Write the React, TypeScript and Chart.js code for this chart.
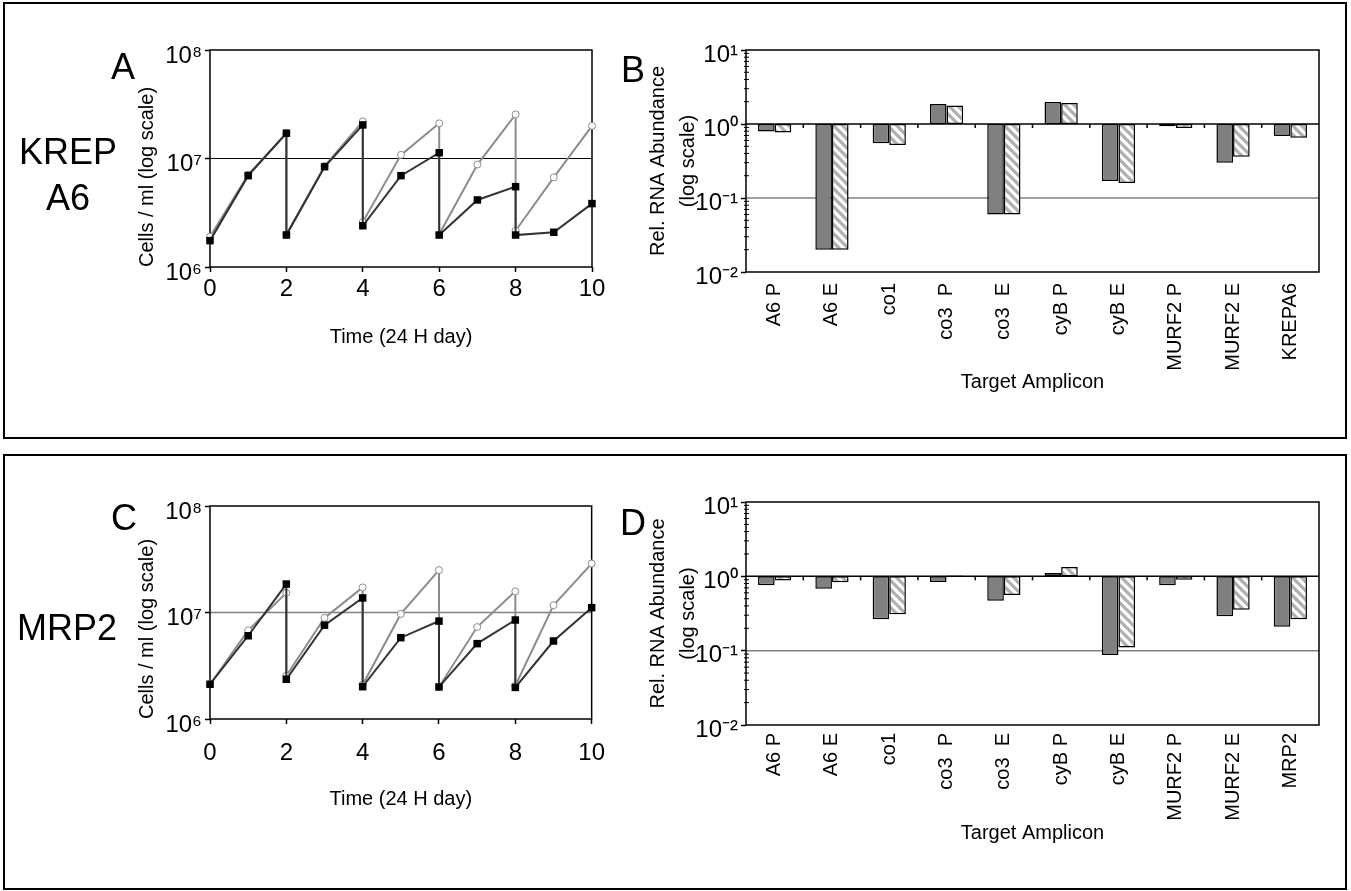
import React, { useEffect, useRef } from 'react';
import { Chart, registerables } from 'chart.js';

Chart.register(...registerables);

const FONT = "Arial, 'Liberation Sans', Helvetica, sans-serif";
Chart.defaults.font.family = FONT;
Chart.defaults.color = '#000';

// ---------- Growth curves (panels A and C) ----------
const daysGrowth = [0, 1, 2, 2, 3, 4, 4, 5, 6, 6, 7, 8, 8, 9, 10];
const blackA = [1.75e6, 6.95e6, 1.71e7, 1.97e6, 8.4e6, 2.04e7, 2.4e6, 6.95e6, 1.13e7, 1.97e6, 4.15e6, 5.5e6, 1.97e6, 2.09e6, 3.84e6];
const grayA = [1.9e6, 7.1e6, 1.71e7, 2.0e6, 8.5e6, 2.2e7, 2.6e6, 1.08e7, 2.11e7, 2.0e6, 8.8e6, 2.55e7, 2.16e6, 6.7e6, 2.0e7];
const blackC = [2.12e6, 6.05e6, 1.85e7, 2.36e6, 7.6e6, 1.37e7, 2.01e6, 5.8e6, 8.3e6, 2.0e6, 5.1e6, 8.5e6, 1.98e6, 5.4e6, 1.11e7];
const grayC = [2.12e6, 6.8e6, 1.53e7, 2.55e6, 8.9e6, 1.72e7, 2.1e6, 9.7e6, 2.5e7, 2.0e6, 7.3e6, 1.58e7, 2.05e6, 1.17e7, 2.88e7];
const xTicksGrowth = [0, 2, 4, 6, 8, 10];
const yTicksGrowth = [1e6, 1e7, 1e8];
const yTickLabelsGrowth = ['10⁶', '10⁷', '10⁸'];

// ---------- Relative RNA abundance (panels B and D) ----------
const categoriesB = ['A6 P', 'A6 E', 'co1', 'co3  P', 'co3  E', 'cyB P', 'cyB E', 'MURF2 P', 'MURF2 E', 'KREPA6'];
const solidB = [0.79, 0.02, 0.55, 1.86, 0.06, 1.98, 0.17, 0.93, 0.3, 0.69];
const hatchB = [0.77, 0.02, 0.52, 1.78, 0.06, 1.92, 0.16, 0.88, 0.36, 0.65];
const categoriesD = ['A6 P', 'A6 E', 'co1', 'co3  P', 'co3  E', 'cyB P', 'cyB E', 'MURF2 P', 'MURF2 E', 'MRP2'];
const solidD = [0.76, 0.68, 0.265, 0.84, 0.47, 1.11, 0.0875, 0.76, 0.29, 0.21];
const hatchD = [0.88, 0.83, 0.31, 1.03, 0.56, 1.34, 0.11, 0.9, 0.355, 0.265];
const yTicksRNA = [0.01, 0.1, 1, 10];
const yTickLabelsRNA = ['10⁻²', '10⁻¹', '10⁰', '10¹'];

const decorPlugin = {
  id: 'decor',
  beforeDatasetsDraw(chart: any, _args: any, opts: any) {
    const { ctx, chartArea: a } = chart;
    const xs = chart.scales.x;
    const ys = chart.scales.y;
    ctx.save();
    (opts.hlines || []).forEach((h: any) => {
      const py = ys.getPixelForValue(h.value);
      ctx.strokeStyle = h.color;
      ctx.lineWidth = h.width;
      ctx.beginPath();
      ctx.moveTo(a.left, py);
      ctx.lineTo(a.right, py);
      ctx.stroke();
    });
    ctx.strokeStyle = '#000';
    ctx.lineWidth = 1;
    if (opts.minorTicks) {
      const e0 = Math.floor(Math.log10(ys.min));
      const e1 = Math.ceil(Math.log10(ys.max));
      for (let e = e0; e < e1; e++) {
        for (let k = 2; k <= 9; k++) {
          const py = ys.getPixelForValue(k * Math.pow(10, e));
          ctx.beginPath();
          ctx.moveTo(a.left - 2, py);
          ctx.lineTo(a.left + 3, py);
          ctx.stroke();
        }
      }
    }
    if (opts.baselineValue !== undefined) {
      const py = ys.getPixelForValue(opts.baselineValue);
      const n = chart.data.labels.length;
      ctx.lineWidth = 1.5;
      for (let i = 1; i < n; i++) {
        const px = (xs.getPixelForValue(i - 1) + xs.getPixelForValue(i)) / 2;
        ctx.beginPath();
        ctx.moveTo(px, py);
        ctx.lineTo(px, py + 4);
        ctx.stroke();
      }
    }
    ctx.lineWidth = 1.5;
    ctx.strokeRect(a.left, a.top, a.right - a.left, a.bottom - a.top);
    ctx.restore();
  },
};

function growthConfig(black: number[], gray: number[], g: any): any {
  return {
    type: 'line',
    data: {
      datasets: [
        {
          data: daysGrowth.map((d, i) => ({ x: d, y: black[i] })),
          borderColor: '#333',
          borderWidth: 2,
          pointStyle: 'rect',
          pointRadius: 5.3,
          pointBackgroundColor: '#000',
          pointBorderColor: '#000',
          pointBorderWidth: 0,
          tension: 0,
          clip: false,
        },
        {
          data: daysGrowth.map((d, i) => ({ x: d, y: gray[i] })),
          borderColor: '#8c8c8c',
          borderWidth: 2,
          pointStyle: 'circle',
          pointRadius: 3.5,
          pointBackgroundColor: '#fff',
          pointBorderColor: '#8c8c8c',
          pointBorderWidth: 1,
          tension: 0,
          clip: false,
        },
      ],
    },
    options: {
      responsive: false,
      animation: false,
      events: [],
      layout: { padding: { left: 0, top: g.padTop, right: g.padRight, bottom: 0 } },
      plugins: {
        legend: { display: false },
        tooltip: { enabled: false },
        decor: { hlines: [{ value: 1e7, color: g.gridColor, width: g.gridWidth }] },
      },
      scales: {
        x: {
          type: 'linear',
          min: 0,
          max: 10,
          afterBuildTicks: (s: any) => { s.ticks = xTicksGrowth.map((v) => ({ value: v })); },
          afterFit: (s: any) => { s.height = g.xHeight; },
          grid: { drawOnChartArea: false, drawTicks: true, tickLength: 5, tickColor: '#000', tickWidth: 1.5 },
          border: { display: false },
          ticks: { font: { size: 24 }, color: '#000', padding: g.tickPad, maxRotation: 0 },
          title: {
            display: true,
            text: 'Time (24 H day)',
            color: '#000',
            font: { size: 20, lineHeight: 1.2 },
            padding: { top: 0, bottom: g.titlePad },
          },
        },
        y: {
          type: 'logarithmic',
          min: 1e6,
          max: 1e8,
          afterBuildTicks: (s: any) => { s.ticks = yTicksGrowth.map((v) => ({ value: v })); },
          afterFit: (s: any) => { s.width = 110; },
          grid: { drawOnChartArea: false, drawTicks: true, tickLength: 5, tickColor: '#000', tickWidth: 1.5 },
          border: { display: false },
          ticks: {
            font: { size: 24 },
            color: '#000',
            padding: 3,
            labelOffset: 6,
            callback: (_v: any, i: number) => yTickLabelsGrowth[i],
          },
          title: {
            display: true,
            text: 'Cells / ml (log scale)',
            align: 'start',
            color: '#000',
            font: { size: 20, lineHeight: 1.2 },
            padding: { top: 35, bottom: 0 },
          },
        },
      },
    },
    plugins: [decorPlugin],
  };
}

function makeHatch(): any {
  const s = 9;
  const c = document.createElement('canvas');
  c.width = s;
  c.height = s;
  const g = c.getContext('2d')!;
  g.fillStyle = '#fff';
  g.fillRect(0, 0, s, s);
  g.strokeStyle = '#b0b0b0';
  g.lineWidth = 3.2;
  for (const k of [-1, 0, 1]) {
    g.beginPath();
    g.moveTo(-1, -1 + k * s);
    g.lineTo(s + 1, s + 1 + k * s);
    g.stroke();
  }
  return g.createPattern(c, 'repeat');
}

function rnaConfig(cats: string[], solid: number[], hatch: number[], b: any): any {
  return {
    type: 'bar',
    data: {
      labels: cats,
      datasets: [
        { data: solid.map((v) => [1, v]), backgroundColor: '#808080', borderColor: '#000', borderWidth: 1.5, borderSkipped: false },
        { data: hatch.map((v) => [1, v]), backgroundColor: makeHatch(), borderColor: '#000', borderWidth: 1.5, borderSkipped: false },
      ],
    },
    options: {
      responsive: false,
      animation: false,
      events: [],
      datasets: { bar: { categoryPercentage: 0.58, barPercentage: 1 } },
      layout: { padding: { left: 0, top: b.padTop, right: b.padRight, bottom: 0 } },
      plugins: {
        legend: { display: false },
        tooltip: { enabled: false },
        decor: {
          hlines: [
            { value: 0.1, color: '#808080', width: 1.5 },
            { value: 1, color: '#000', width: 1.5 },
          ],
          minorTicks: true,
          baselineValue: 1,
        },
      },
      scales: {
        x: {
          afterFit: (s: any) => { s.height = b.xHeight; },
          grid: { display: false, drawOnChartArea: false, drawTicks: false },
          border: { display: false },
          ticks: { font: { size: 20 }, color: '#000', minRotation: 90, maxRotation: 90, autoSkip: false, padding: b.labelPad },
          title: {
            display: true,
            text: 'Target Amplicon',
            color: '#000',
            font: { size: 20, lineHeight: 1.2 },
            padding: { top: 0, bottom: b.titlePad },
          },
        },
        y: {
          type: 'logarithmic',
          min: 0.01,
          max: 10,
          afterBuildTicks: (s: any) => { s.ticks = yTicksRNA.map((v) => ({ value: v })); },
          afterFit: (s: any) => { s.width = 126; },
          grid: { drawOnChartArea: false, drawTicks: true, tickLength: 5, tickColor: '#000', tickWidth: 1.5 },
          border: { display: false },
          ticks: {
            font: { size: 24 },
            color: '#000',
            padding: 3,
            labelOffset: 5,
            callback: (_v: any, i: number) => yTickLabelsRNA[i],
          },
          title: {
            display: true,
            text: ['Rel. RNA Abundance', '(log scale)'],
            color: '#000',
            font: { size: 20, lineHeight: 1.5 },
            padding: { top: 23, bottom: 0 },
          },
        },
      },
    },
    plugins: [decorPlugin],
  };
}

function ChartBox(props: { left: number; top: number; width: number; height: number; build: () => any }) {
  const ref = useRef<HTMLCanvasElement>(null);
  useEffect(() => {
    const chart = new Chart(ref.current as HTMLCanvasElement, props.build());
    return () => chart.destroy();
  }, []);
  return (
    <canvas
      ref={ref}
      width={props.width}
      height={props.height}
      style={{ position: 'absolute', left: props.left, top: props.top, width: props.width, height: props.height }}
    />
  );
}

function Label(props: { x: number; y: number; text: string; size?: number }) {
  return (
    <div
      style={{
        position: 'absolute',
        left: props.x,
        top: props.y,
        transform: 'translate(-50%, -50%)',
        fontFamily: FONT,
        fontSize: props.size || 36,
        lineHeight: 1,
        whiteSpace: 'nowrap',
        color: '#000',
      }}
    >
      {props.text}
    </div>
  );
}

export default function App() {
  const frame = (top: number, height: number) => ({
    position: 'absolute' as const,
    left: 3,
    top,
    width: 1344,
    height,
    border: '2px solid #000',
    boxSizing: 'border-box' as const,
  });
  return (
    <div style={{ position: 'absolute', left: 0, top: 0, width: 1351, height: 891, background: '#fff', overflow: 'hidden' }}>
      <div style={frame(2, 437)} />
      <div style={frame(454, 436)} />

      <ChartBox left={100} top={20} width={520} height={350}
        build={() => growthConfig(blackA, grayA, { padTop: 30, padRight: 28, xHeight: 103, tickPad: 3, titlePad: 21, gridColor: '#000', gridWidth: 1 })} />
      <ChartBox left={620} top={20} width={720} height={410}
        build={() => rnaConfig(categoriesB, solidB, hatchB, { padTop: 30, padRight: 21, xHeight: 158, labelPad: 11, titlePad: 36 })} />
      <ChartBox left={100} top={475} width={520} height={360}
        build={() => growthConfig(blackC, grayC, { padTop: 31, padRight: 28, xHeight: 116, tickPad: 15, titlePad: 24, gridColor: '#808080', gridWidth: 1.5 })} />
      <ChartBox left={620} top={472} width={720} height={410}
        build={() => rnaConfig(categoriesD, solidD, hatchD, { padTop: 30, padRight: 21, xHeight: 157, labelPad: 8, titlePad: 37 })} />

      <Label x={123} y={67} text="A" />
      <Label x={68} y={152} text="KREP" />
      <Label x={68} y={198} text="A6" />
      <Label x={633} y={70} text="B" />
      <Label x={124} y={518} text="C" />
      <Label x={67} y={628} text="MRP2" />
      <Label x={633} y={523} text="D" />
    </div>
  );
}
